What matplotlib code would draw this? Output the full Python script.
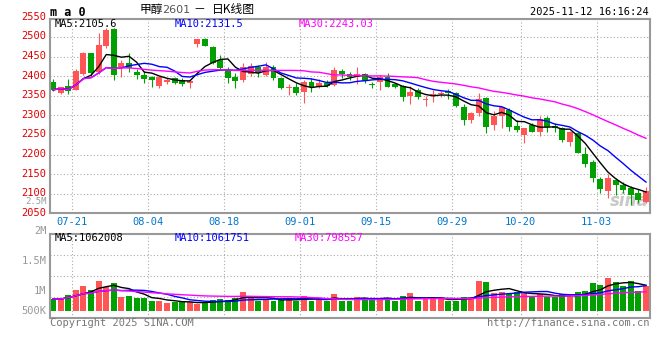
import numpy as np
import pandas as pd
import matplotlib
matplotlib.use("Agg")
import matplotlib.pyplot as plt
from matplotlib.transforms import ScaledTranslation

# ── Data (甲醇2601) ───────────────────────────────────────────────────────────

tick_labels = ["07-21", "08-04", "08-18", "09-01", "09-15", "09-29", "10-20", "11-03"]
tick_index  = [2, 12, 22, 32, 42, 52, 61, 71]

opens = [2386, 2358, 2374, 2365, 2405, 2458, 2410, 2478, 2521, 2422,
         2433, 2411, 2402, 2398, 2374, 2386, 2396, 2390, 2382, 2483,
         2494, 2475, 2440, 2416, 2399, 2390, 2405, 2422, 2403, 2424,
         2394, 2370, 2371, 2360, 2386, 2371, 2382, 2377, 2413, 2405,
         2397, 2405, 2380, 2386, 2397, 2380, 2375, 2348, 2365, 2339,
         2353, 2355, 2362, 2358, 2322, 2288, 2307, 2345, 2274, 2297,
         2314, 2273, 2250, 2275, 2258, 2294, 2273, 2267, 2233, 2256,
         2201, 2182, 2137, 2108, 2135, 2122, 2114, 2101, 2080]
highs = [2392, 2373, 2392, 2418, 2462, 2460, 2509, 2522, 2522, 2441,
         2458, 2418, 2412, 2400, 2399, 2396, 2398, 2394, 2390, 2495,
         2496, 2477, 2454, 2422, 2407, 2433, 2434, 2428, 2437, 2428,
         2398, 2380, 2383, 2390, 2394, 2392, 2390, 2424, 2417, 2411,
         2422, 2409, 2386, 2403, 2407, 2383, 2377, 2375, 2369, 2348,
         2365, 2363, 2367, 2360, 2328, 2309, 2356, 2347, 2312, 2322,
         2318, 2288, 2267, 2280, 2298, 2298, 2280, 2271, 2259, 2258,
         2220, 2187, 2143, 2150, 2139, 2131, 2120, 2111, 2116]
lows = [2362, 2355, 2354, 2364, 2402, 2400, 2405, 2472, 2390, 2398,
        2410, 2392, 2383, 2371, 2369, 2381, 2380, 2375, 2370, 2473,
        2476, 2430, 2415, 2383, 2369, 2386, 2400, 2397, 2400, 2390,
        2366, 2352, 2352, 2332, 2360, 2370, 2373, 2375, 2394, 2390,
        2380, 2382, 2369, 2365, 2372, 2369, 2337, 2330, 2341, 2325,
        2335, 2346, 2341, 2322, 2274, 2280, 2297, 2254, 2263, 2267,
        2261, 2258, 2230, 2258, 2247, 2258, 2258, 2233, 2222, 2203,
        2169, 2131, 2102, 2090, 2097, 2103, 2071, 2076, 2076]
closes = [2365, 2371, 2362, 2412, 2458, 2408, 2479, 2518, 2402, 2434,
          2420, 2403, 2392, 2389, 2397, 2391, 2383, 2380, 2388, 2494,
          2478, 2433, 2420, 2394, 2388, 2424, 2425, 2407, 2424, 2394,
          2369, 2372, 2356, 2386, 2371, 2383, 2375, 2416, 2405, 2397,
          2405, 2388, 2378, 2399, 2373, 2373, 2346, 2360, 2346, 2341,
          2355, 2357, 2358, 2325, 2288, 2307, 2342, 2271, 2298, 2320,
          2271, 2263, 2267, 2258, 2290, 2271, 2267, 2237, 2258, 2205,
          2176, 2141, 2113, 2140, 2122, 2110, 2097, 2085, 2108]
# volume in thousands of lots
volume_k = [496, 496, 661, 865, 1047, 865, 1240, 1004, 1157, 592,
            633, 551, 551, 427, 427, 331, 386, 358, 386, 275,
            358, 455, 496, 455, 551, 785, 524, 413, 496, 413,
            455, 524, 427, 620, 427, 524, 413, 703, 427, 427,
            592, 524, 496, 524, 524, 427, 620, 730, 427, 483,
            483, 565, 427, 427, 565, 565, 1240, 1185, 730, 772,
            703, 799, 772, 565, 703, 592, 565, 689, 565, 772,
            827, 1144, 1075, 1377, 1185, 1033, 1240, 827, 1033]

# ── Style ─────────────────────────────────────────────────────────────────────

UP, DOWN = "#ff5555", "#00a000"
MA_COLORS = {5: "black", 10: "#0000ff", 30: "#ff00ff"}
GRID  = "#aaaaaa"
FRAME = "#999999"
MONO  = "DejaVu Sans Mono"
CJK   = ["Noto Sans CJK SC", "DejaVu Sans"]

W, H = 660, 360

def box(l, t, r, b):
    return [l / W, 1 - b / H, (r - l) / W, (b - t) / H]

def ptext(x, y, s, **kw):
    kw.setdefault("family", MONO)
    kw.setdefault("fontsize", 7.5)
    kw.setdefault("va", "center")
    fig.text(x / W, 1 - y / H, s, **kw)

o = np.array(opens, float)
c = np.array(closes, float)
n = len(c)
x = np.arange(n)
up = c >= o
colors = np.where(up, UP, DOWN)
xlim = (-0.395, n - 1 + 0.526)

fig = plt.figure(figsize=(W / 100, H / 100), dpi=100)
fig.patch.set_facecolor("white")

# ── Price panel ───────────────────────────────────────────────────────────────
ax = fig.add_axes(box(50, 19, 650, 213.3))
ax.set_xlim(*xlim)
ax.set_ylim(2050, 2545.7)

ax.vlines(x, lows, highs, colors=colors, linewidth=0.8, zorder=2)
ax.bar(x, np.maximum(np.abs(c - o), 2.0), bottom=np.minimum(o, c),
       width=0.78, color=colors, linewidth=0, zorder=2)

closes_s = pd.Series(c)
for w, col in MA_COLORS.items():
    ax.plot(x, closes_s.rolling(w, min_periods=1).mean(), color=col,
            linewidth=1.0, zorder=3)

ax.set_yticks(range(2050, 2501, 50))
ax.set_xticks(np.array(tick_index) + 0.5)
ax.set_xticklabels(tick_labels)
ax.tick_params(axis="x", length=0, pad=3, labelsize=7.5, labelcolor="#0077cc")
ax.tick_params(axis="y", length=0, pad=3, labelsize=7.5, labelcolor="#e00000")
lift = ScaledTranslation(0, 1.5 / 100, fig.dpi_scale_trans)
for lab in ax.get_xticklabels():
    lab.set_family(MONO)
for lab in ax.get_yticklabels():
    lab.set_family(MONO)
    lab.set_transform(lab.get_transform() + lift)
ax.grid(True, color=GRID, linestyle=(0, (1, 2)), linewidth=0.8)
ax.set_axisbelow(True)
for sp in ax.spines.values():
    sp.set_color(FRAME)
    sp.set_linewidth(1.5)

ax.text(0.997, 0.015, "sina", transform=ax.transAxes, ha="right", va="bottom",
        fontsize=12, fontstyle="italic", fontweight="bold", color="#c8c8c8",
        zorder=1)

# ── Volume panel ──────────────────────────────────────────────────────────────
axv = fig.add_axes(box(50, 234, 650, 318))
axv.set_xlim(*xlim)
v_lo, v_hi = -7 / 0.0242, 77 / 0.0242
axv.set_ylim(v_lo, v_hi)

vol = np.array(volume_k, float)
axv.bar(x, vol, width=0.78, color=colors, linewidth=0, zorder=2)
vol_s = pd.Series(vol)
for w, col in MA_COLORS.items():
    axv.plot(x, vol_s.rolling(w, min_periods=1).mean(), color=col,
             linewidth=1.0, zorder=3)

axv.set_yticks([v_lo + (v_hi - v_lo) * f for f in (0.25, 0.5, 0.75)])
axv.set_xticks(np.array(tick_index) + 0.5)
axv.set_xticklabels([])
axv.set_yticklabels([])
axv.tick_params(length=0)
axv.grid(True, color=GRID, linestyle=(0, (1, 2)), linewidth=0.8)
axv.set_axisbelow(True)
for sp in axv.spines.values():
    sp.set_color(FRAME)
    sp.set_linewidth(1.5)

# ── Texts ─────────────────────────────────────────────────────────────────────
ptext(50, 12, "m a 0", fontweight="bold", fontsize=8.5)
ptext(140, 10, "甲醇", family=CJK, fontsize=8.5)
ptext(162, 10, "2601", family="DejaVu Sans", fontsize=8, color="#555555")
ptext(193, 10, "－", family=CJK, fontsize=8.5)
ptext(212, 10, "日K线图", family=CJK, fontsize=8.5)
ptext(649, 12, "2025-11-12 16:16:24", ha="right")

ptext(46.5, 16.5, "2550", ha="right", color="#e00000")
ptext(46.5, 201.8, "2.5M", ha="right", color="#999999", fontsize=6.5)

ptext(55, 24, "MA5:2105.6", color="black")
ptext(175, 24, "MA10:2131.5", color="#0000ff")
ptext(299, 24, "MA30:2243.03", color="#ff00ff")

ptext(55, 238, "MA5:1062008", color="black")
ptext(175, 238, "MA10:1061751", color="#0000ff")
ptext(295, 238, "MA30:798557", color="#ff00ff")

for y, s in [(231, "2M"), (261, "1.5M"), (291, "1M"), (311, "500K")]:
    ptext(46.5, y, s, ha="right", color="#999999")

ptext(50, 323.5, "Copyright 2025 SINA.COM", color="#777777")
ptext(649, 323.5, "http://finance.sina.com.cn", ha="right", color="#777777")

fig.savefig("out.png", dpi=100, facecolor="white")
